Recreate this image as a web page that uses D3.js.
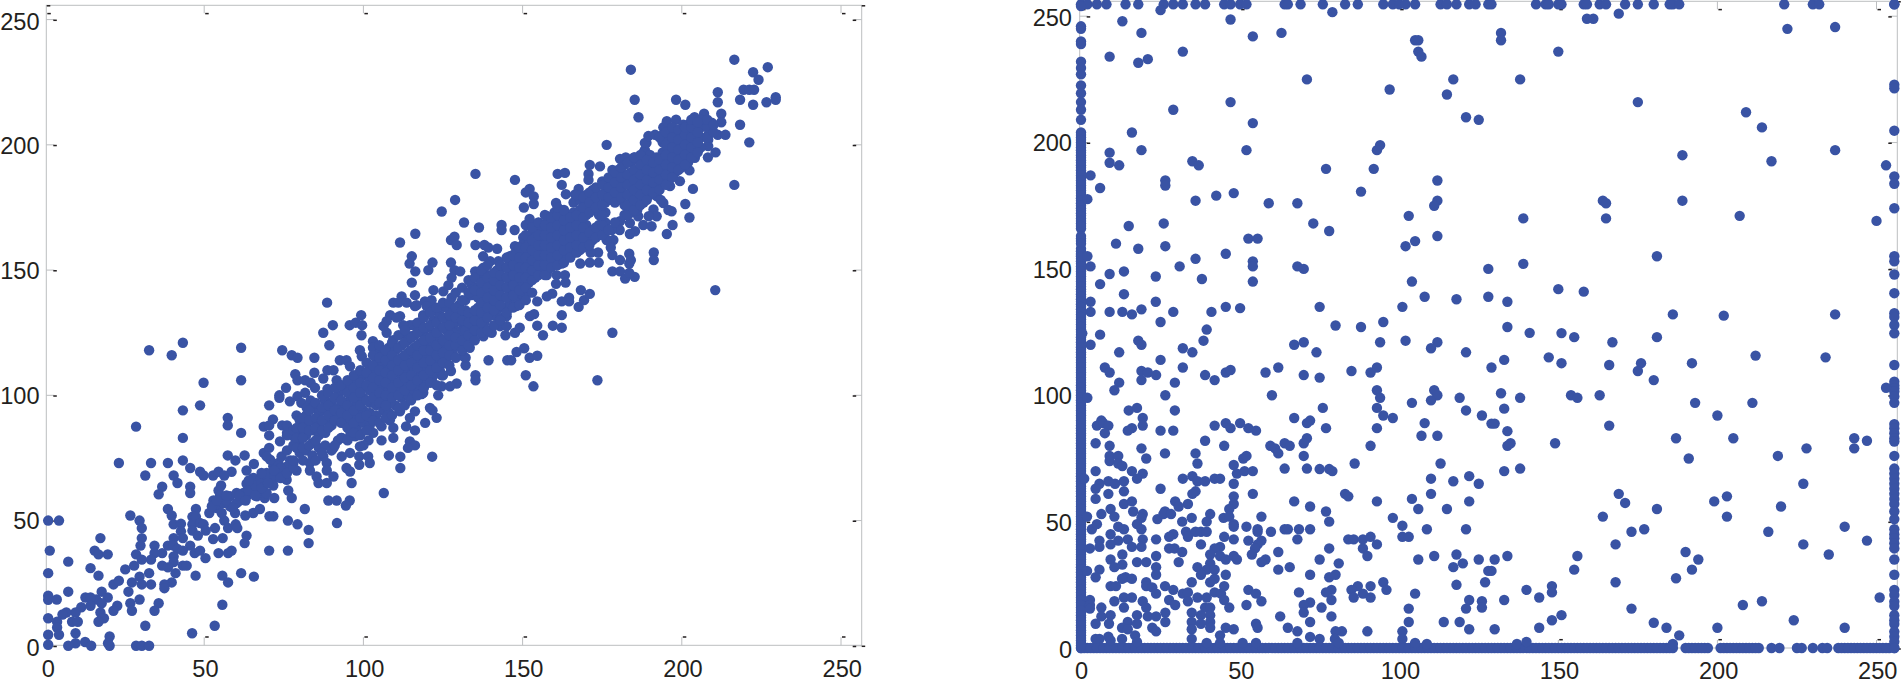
<!DOCTYPE html>
<html><head><meta charset="utf-8">
<script src="https://cdnjs.cloudflare.com/ajax/libs/d3/7.8.5/d3.min.js"></script>
<style>html,body{margin:0;padding:0;background:#fff}svg{display:block}text{font-family:"Liberation Sans",Arial,sans-serif;fill:#231f20}</style>
</head><body><svg id="c" width="1901" height="686"></svg>
<script>
const tickValues=[0,50,100,150,200,250];
const leftOuter=[[1,50],[4.4,50],[1.5,38],[1,29],[1,20],[1,18.4],[1,11],[1,4.4],[1,0.4],[3.7,18.5],[7.3,21.6],[7.3,33.6],[17.4,43],[15.6,38],[16.8,36.5],[19.7,36.5],[14.3,31],[16.8,28],[26.8,52],[29.7,50],[30.4,47],[30.4,43],[30,40],[28.6,36.5],[34.4,40],[23.2,73],[33.3,73],[38.6,73],[43.3,74],[31.5,68],[40.4,68],[41.6,65],[36.8,63.5],[35.7,60.5],[45.6,63.5],[45.6,61],[28.6,87.5],[43.3,83],[43.3,94],[48.7,96],[49.8,105],[61.6,106],[32.7,118],[39.8,116],[43.3,121],[61.6,119],[74.5,118],[77.5,116],[79.3,115],[84.6,115],[87.4,125],[90.4,128],[89.3,120],[88.6,137],[95.7,128],[97.6,129],[99.6,128],[99.3,132],[99.4,124],[57.4,91],[57.4,88],[61.6,85],[70.4,96],[70.4,84],[68.7,87.5],[71.6,90.4],[70.4,88],[74.5,88],[57.4,76],[59.8,74],[62.7,76],[65.6,72.6],[45.6,71],[48.7,69.5],[49.8,68],[52.8,68],[54.5,69.5],[58.6,69.5],[56.3,68],[63.3,70],[68.7,77],[70.4,79],[55.3,64],[54.5,62],
[38.6,54.6],[39.8,52],[40.4,48.5],[42.7,48.7],[42.7,45.7],[40.4,43],[43.3,43],[47.4,54.6],[46.3,51.5],[46.3,48.5],[47.4,51.5],[46.3,46],[48.7,49],[49.8,48.5],[51.6,53],[53.4,47],[50.5,46],[48,44],[52.8,42.6],[55.8,43],[56.3,50],[57.5,47],[59.9,48.5],[60.4,47],[63.3,44],[62.7,41],[54.5,37],[57.5,37],[58.6,38],[50.4,35],[45.6,40],[38.6,40],[40.4,40],[41.6,38.7],[43.3,38],[47,37],[48.7,38],[36.8,37],[34.4,37],[40.4,35.7],[40.4,33.4],[33.3,34.4],[30.4,34.4],[28,32],[25.2,30.5],[36.8,32],[38.6,31.3],[41,29],[43.3,32],[44.5,32],[47.3,28],[32.7,29],[29.7,27.6],[33.3,24.5],[30.4,24.5],[27.3,25.3],[26.2,21.6],[29.7,18.5],[26.8,17],[27.3,14],[21.5,24.5],[23.2,26],[39.8,25.3],[37.5,24.5],[37.5,23],[35.7,17],[34.4,14],
[17.8,21.6],[19.7,19.3],[16.1,18.5],[12.7,19.3],[14.3,19.3],[17.8,17],[14.3,16],[11.4,15.4],[9.6,13.3],[6.7,13.3],[5.5,12.5],[22.7,16],[21.5,14],[17.4,13.3],[18.5,11],[16.8,9.6],[8.5,9.6],[10.3,9.6],[3.8,9.6],[3.8,7.3],[4.4,4.4],[9.6,5],[31.5,8],[20.3,3.7],[19.8,1],[12.6,1.5],[9.6,1],[7.3,0],[14.5,0],[20.3,0],[28.6,0],[30.4,0],[32.7,0],[46.2,5],[53.3,8],[55.7,16.4],[55.7,28],[57.5,25.3],[61.6,29],[65.6,27.6],[70.4,38],[76.3,38],[82.8,41],[82.8,46.3],[79.3,48.5],[76.3,50],[91.7,49],[81.6,54.6],[106.4,61],[89,58],[91.6,58],[95.7,58],[94.5,56],[77.5,59],[72,59],[69,59],[96.3,65],[111.6,71],[121.6,75.5],[108,76],[111.6,75.5],[62.9,52],[65.4,53],[67.5,54.6],[70.5,51.7],[71.7,51.7],[59.7,53]];
const leftLower=[[52.9,58],[53.9,55],[56,57],[58.1,59.7],[60.2,61],[61.2,58],[58.1,55.7],[55.5,53],[52.4,55.7],[60.2,57],[63.3,64.7],[65.4,67],[67.5,62],[69.6,61],[65.4,61],[62.3,61],[63.3,59.7],[66.5,59.7],[69.6,69],[71.7,71.7],[73.8,69],[75.9,66.3],[71.7,66.3],[73.3,73],[77,74],[79,70],[76,71.6],[78,73],[76.4,62],[71.7,64],[67.5,66.3],[70.7,74.3],[74.3,75.6],[69.6,75.6],[83.2,73],[83.2,70],[85.3,67.6],[85.9,65],[88.5,73],[88.5,70],[90.6,67.6],[88.5,65],[94.7,71],[95.8,69.6],[93.2,75.6],[95.8,77],[98.7,75.6],[98.7,72.3],[101.5,75.6],[102,73],[87.4,75.6],[73.8,81.6],[76,85],[78,83.6],[80,85],[82,87.6],
[64,62],[66,64],[68,65],[70,67],[72,68],[74,71],[68,63],[70,65],[72,70],[74,67],[76,69],[78,71],[66,60],[64,66],[68,69],[61,60],[63,58],[55,60],[57,58],[59,55],[57,60],[54,58]];
const leftUpperWing=[[216.5,234],[184,230],[227,231],[222.4,229],[224.1,226],[219.4,222],[221.2,222],[222.7,222],[211.3,221],[211.3,217],[218.3,218],[222.4,216],[226.6,217],[229.5,219],[229.5,218],[185.2,218],[198.2,218],[201.1,216],[186.4,211],[212.4,212.4],[212.4,209],[218.3,208],[221.2,201],[211.3,204],[213.7,204],[176.4,200],[210.6,197],[208.2,195],[216.5,184],[203.5,182.4],[201.1,176.4],[202.4,171],[197.1,168],[195.3,164.4],[199.4,185.5],[135.2,188.4],[147.6,186],[128.8,178],[124.6,173.4],[131.6,169],[136.3,167],[143.4,168],[143.4,166],[147.5,166],[116.3,164.5],[111.5,161],[127.5,162],[128.6,163.3],[129.3,160],[135.2,160],[138,160],[139.2,159],[142,158.5],[115.2,155.5],[114.5,152.6],[116.3,149.5],[120.4,150],[121.7,153],[127.5,153],[137.6,155.5],[115.2,145],[128.6,150],[130.4,149.5],[161,188.4],[163.3,188.8],[162.3,184],[152.2,182.4],[151,181],[153.5,179.4],[153.5,176.4],[150.4,175],[171.1,192],[174.3,191.4],[170.7,188.4],[170.7,186],[175,185.4],[177,185.4],[178.2,190],[180.6,194.4],[182.4,195],[185.2,195],[188.9,200.8],[194.2,207],[195.3,209.4],[198.2,210],[207,212.4],[151,168],[152.2,170.4],[154.6,168],[160.5,176.8],[163.6,180.3],[167.6,182.4],[166.5,180.2],
[112,139.5],[116.2,140],[116.2,135.6],[119.3,137.5],[122,142],[121.4,138],[125.1,141.5],[126.7,144],[127.7,147],[127.7,139],[125.1,135.6],[121.4,134],[118.8,132],[117.8,129],[114.6,128],[111.5,131.6],[113.6,123.6],[135.1,149.5],[137.7,151],[139.8,153.5],[142.4,153.5],[146,155.5],[147.6,159.5],[150.2,163],[153.3,165.5],[154.9,168.8],[157.6,171.5],[160.2,172.8],[162.8,173.5],[156.5,163.5],[161.7,170],[168.6,179.5],[172.2,180.8],[176.4,179.5],[178.5,182],[181.6,184.8],[183.7,188],[186.9,189.5],[188.4,198],[188.4,200.8],[189.5,203.5],[191.6,204],[194.2,202],[196.3,203.5],[198.4,204.8],[200.5,208],[202.6,206.8],[204.1,210],[206.8,208.8],[209.4,208.8],[208.3,204],[208.3,199.5],[208.3,202],[204.1,202],[204.1,198],[202.6,196],[204.1,194.8],[200.5,192],[202.4,189.8],[196.3,183.5],[194.2,176.8],[192.1,179.5],[191.1,174.2],[192.1,171.5],[189.6,171.5],[184.8,175.5],[186.3,171.5],[187.9,168],[190.5,167.5],[183.7,168.8],[185.3,165.5],[183.7,164.4],[180.6,169.5],[178.5,162],[176.4,162],[171.1,162],[180.5,166],[196.8,173.5],[195.8,174],[193.4,178],
[78.6,108.4],[79.3,106],[81.7,106],[84.6,109],[83.4,105],[84.8,103],[87.4,106.7],[88.7,110],[90.6,110],[92.6,114],[94.7,114],[95.8,111.6],[91.6,106],[88.7,102.5],[75.7,103],[73.6,100],[73.6,99],[76.9,97.6],[79.3,99.6],[81.7,101],[83.4,98],[80.5,97],[79,92],[82.2,95],[87.9,98],[87.9,95],[98.9,118],[99.5,115.6],[103,121.6],[103,119],[105.2,117.6],[107.3,125],[106.3,127.6],[108.4,132],[110.4,131],[107.3,129.6],[112.5,128],[115.7,128],[109.3,122],[114.6,123.6],[118.8,131.6],[119.9,135.6],[122,134],[116.7,136],[109.4,137],[111,137],[113.6,137],[123,130],[118.8,125],[110.4,119]];
const leftLowerWing=[[210.5,142],[173.5,106],[178.2,125],[153.4,103.6],[151,108],[135.2,108],[135.2,106],[127.5,109.7],[139.3,114],[145.2,114],[146.4,114],[148.1,117.3],[150.5,118.8],[152.2,115],[154.6,115.8],[132.1,112],[132.1,115],[129.3,104.7],[124.6,103.6],[156.4,124],[154.6,127.8],[159.5,127.8],[162.3,127],[162.3,132],[152.3,131.6],[153.6,132.4],[167.6,135.3],[169.3,138],[171.1,140.5],[168.3,142],[164.6,139],[164.6,137.5],[162.3,137.5],[178.2,149.5],[180.6,149.5],[182.2,146.6],[185.2,147.3],[183.5,148.9],[191.2,157],[191.2,154],[183.5,156.5],[184,154],[183.5,152.6],[180.6,154],[178.2,156],[177.7,159],[173.9,153],[171.1,153],[168.1,152.6],[173.7,157],[171.4,157],[160.7,148],[163.3,148],[157.6,148],[160.5,144.5],[163.5,145],[159.3,140.6],[157.6,139.5],[154.6,137.5],[162.3,152.6],[156.5,152],[147.6,125],[149.1,127],[142.9,127.6],[145,127.6],[144.6,124],[140.3,125],[137.7,123.6],[137.7,127.6],[134.5,125],[144.5,131.6],[141.8,131.6],[137.1,132],[132.4,131.6],[131.4,127],[132.9,121],[133.4,119],[131.4,115.6],[125.1,114.2],[127.2,103.6],
[118.3,100.5],[117.2,101],[123.5,100],[120.9,95],[121.7,94],[123,91],[116.2,93.6],[114.6,91],[113.4,87.6],[116.2,86],[119.4,89],[114.6,81.6],[116.2,80],[114,79],[111.5,93.6],[108.3,90],[109.4,87],[105.7,87.6],[109.4,83],[105.7,82],[102.6,91],[101.6,88],[103.1,85],[101.6,82],[100,80],[95.8,83.6],[93.2,83],[90.6,79],[97.4,83.6],[97.9,87.6],[98.9,79.6],[107.3,95.6],[106.3,94],[118.8,101],
[157.1,149],[148,135.6],[145,131.6],[140.8,134],[136.7,134],[134.5,131.6],[132.4,127.6],[131.4,123.6],[128.8,126],[129.8,129.6],[127.7,125],[125.1,119.6],[124,117],[122,110],[124.6,108],[118.8,106],[121.5,106],[115.7,105],[112.5,104],[114.6,109],[118.8,112]];
const leftCoreRows=[[76,[78,84,88]],[78,[74,80,86]],[80,[77,82,85,90]],[82,[78,84,88,92]],[84,[76,81,86,90,95]],[86,[79,84,88,93]],[88,[80,85,90,94,98]],[90,[78,88,92,97]],[92,[82,91,95,100]],[94,[89,93,97,102]],[96,[85,90,95,99,104]],[98,[86,92,97,101,106]],[100,[89,94,99,103,108]],[102,[88,93,97,102,106,111]],[104,[92,96,100,105,109,113]],[106,[99,103,107,112,116]],[108,[93,98,102,106,110,115,119]],[110,[96,101,105,109,113,118]],[112,[99,103,107,111,115,120]],[114,[100,105,109,113,117,122]],[116,[102,107,111,115,119,124]],[118,[104,109,113,117,121,126]],[120,[106,111,115,119,123,127]],[122,[108,113,117,121,125,130]],[124,[110,115,119,123,127,132]],[126,[113,118,122,126,130,135]],[128,[117,121,125,129,133]],[130,[120,124,132,136]],[132,[122,126,130,134,138]],[134,[124,128,132,140,144]],[136,[127,131,135,139,143,147]],[138,[129,133,137,141,145,149]],[140,[132,136,140,144,148]],[142,[134,138,142,146,150]],[144,[135,139,143,147,151]],[146,[137,141,145,149,153]],[148,[138,142,146,150,154,157]],[150,[140,144,148,152,156,160]],[152,[141,145,149,153,157,161]],[154,[147,151,155,159,163]],[156,[150,154,158,162,166]],[158,[150,154,158,162,166,170]],[160,[153,157,161,165,169,173]],[162,[154,158,162,166,170,174]],[164,[156,160,164,168,172]],[166,[157,161,165,169,173,177]],[168,[158,162,166,170,174,178]],[170,[160,164,168,172,176,180]],[172,[162,166,174,178,182]],[174,[164,168,172,176,180]],[176,[165,169,173,177,181,184]],[178,[166,178,182,186]],[180,[178,182,186,190]],[182,[172,176,180,184,188,192]],[184,[173,177,181,185,189,193]],[186,[174,178,182,186,190,194]],[188,[177,181,185,189,193,197]],[190,[180,184,188,192,196]],[192,[183,187,191,195]],[194,[185,189,193,197,201,204]],[196,[186,190,194,198,202,205]],[198,[189,193,197,201,205]],[200,[191,195,199,203,206]],[202,[193,197,201,205,208]],[204,[196,200,204,208,211]],[206,[199,203,207,210]],[208,[203,207,210]],[210,[205,208]],
[79,[79,83,87]],[81,[74,79,83,87,91]],[83,[80,86,90,94]],[85,[74,82,87,91,97]],[87,[77,86,90,95,100]],[89,[87,92,96,101]],[91,[80,90,94,99,103]],[93,[83,89,93,98,104]],[95,[82,87,92,96,101,106]],[97,[85,89,94,99,103,108]],[99,[84,91,96,101,105,110]],[101,[86,92,98,104,109,113]],[103,[90,99,103,107,112,116]],[105,[89,97,101,106,110,115,120]],[107,[91,96,100,105,109,114,118]],[109,[92,99,103,108,112,116,121]],[111,[95,100,105,110,114,119,124]],[113,[96,102,107,112,116,121,126]],[115,[98,104,108,113,118,123]],[117,[100,106,111,116,120,125,129]],[119,[103,108,113,118,122,127,131]],[121,[105,110,114,118,123,128,133]],[123,[104,111,116,120,125,129,135]],[125,[108,113,117,122,127,131,137]],[127,[112,116,120,124,128,132,137]],[129,[115,120,123,131,135,141]],[131,[118,122,130,134,138,143]],[133,[120,124,129,133,141,146]],[135,[122,126,130,134,142,147]],[137,[125,129,133,137,141,145,150]],[139,[126,131,135,139,143,147,152]],[141,[128,134,138,142,146,149]],[143,[130,136,140,144,148,152]],[145,[133,139,143,147,151,155]],[147,[135,140,144,148,152,156]],[149,[136,142,147,151,155,159]],[151,[138,143,147,151,155,159,164]],[153,[141,146,150,154,158,162,167]],[155,[148,152,156,160,164,169]],[157,[148,152,156,160,164,168,172]],[159,[151,155,159,163,167,171]],[161,[152,156,160,164,168,172,175]],[163,[153,158,162,166,170,174]],[165,[155,159,163,167,171]],[167,[157,160,164,168,172,180]],[169,[159,163,167,171,175,179]],[171,[160,165,173,177,181]],[173,[163,167,175,179,183]],[175,[164,168,172,176,180,184]],[177,[166,179,183,187]],[179,[169,177,181,185,189]],[181,[179,183,187,191]],[183,[172,176,180,184,188,193]],[185,[174,178,182,186,190,195]],[187,[176,180,184,188,192,196]],[189,[178,182,186,190,194]],[191,[181,185,189,193]],[193,[182,186,190,194,203]],[195,[184,188,192,196,200,205]],[197,[187,191,195,199,203,207]],[199,[190,194,198,202,206]],[201,[192,196,200,204,207]],[203,[195,199,203,207,210]],[205,[197,201,205,209]]];

const rightTopX=[0,2,5,8,14,18,26,29,32,36,39,45,47,50,52,64,65,69,76,83,87,95,98,100,102,105,113,115,118,122,124,128,129,143,146,147,150,151,158,159,163,165,171,175,180,185,186,188,221,230,232,255.6];
const rightBottomX=[0,2,4,6,8,10,12,14,16,18,20,22,24,26,28,30,32,34,36,38,40,42,44,46,48,50,52,54,56,58,60,62,64,66,68,70,72,74,76,78,80,82,84,86,88,90,92,94,96,98,100,102,104,106,108,110,112,114,116,118,120,122,124,126,128,130,132,134,136,138,140,142,144,146,148,150,152,154,156,158,160,162,164,166,168,170,172,174,176,178,180,182,184,186,190,192,194,196,197,201,203,205,207,209,211,213,217,219.5,225,226.5,230,233,234.5,238,240,242,244,246,248,250,252,254,255.6];
const rightBottomFill=[1,3,5,7,9,11,13,15,17,19,21,23,25,27,29,31,33,35,37,39,41,43,45,47,49,51,53,55,57,59,61,63,65,67,69,71,73,75,77,79,81,83,85,87,89,91,93,95,97,99,101,103,105,107,109,111,113,115,117,119,121,123,125,127,129,131,133,135,137,139,141,143,145,147,149,151,153,155,157,159,161,163,165,167,169,171,173,175,177,179,181,183,185,191,193,195,202,204,206,208,210,212,239,241,243,245,247,249,251,253];
const rightLeftY=[254,246,245,240,239,232,229.5,227,222.6,219.5,216,213,209,204,202,200,198,196,194,192,190,188,186,184,182,180,178,176,174,172,170,168,166,163,161,158,156,154,152,150,148,146,144,142,140,138,136,134,132,130,128,126,124,122,120,118,116,114,112,110,108,106,104,102,100,98,96,94,92,90,88,86,84,82,80,78,76,74,72,70,68,66,64,62,60,58,56,54,52,50,48,46,44,42,40,38,36,34,32,30,28,26,24,22,20,18,16,14,12,10,8,6,4,2,0];
const rightLeftFill=[203,201,199,197,195,193,191,189,187,185,183,181,179,177,175,173,171,169,167,162,160,157,155,153,151,149,147,145,143,141,139,137,135,133,131,129,127,125,123,121,119,117,115,113,111,109,107,105,103,101,99,97,95,93,91,89,87,85,83,81,79,77,75,73,71,69,67,65,63,61,59,57,55,53,51,49,47,45,43,41,39,37,35,33,31,29,27,25,23,21,19,17,15,13,11,9,7,5,3,1];
const rightRightY=[254.7,222.9,221.5,204.7,186.6,183.7,174,155,153,147.8,140.4,132.5,131,127.8,124.5,112,105.4,104,102.8,101.5,99.5,97,88.6,87,85,83,81.7,76,71,69,67,65,63,61,59,57,54,51,47,45,43.4,41.4,39.4,35,29,23,21,18.3,16.6,13,11,9.5,6.5,4.5,2.5,0];
const rightUpper=[[25,252.4],[79,251.6],[47,248.7],[13,248],[19,243.4],[54,242],[63,243.4],[32,236],[105,240.5],[106,240.5],[106,236],[107,234],[9,234],[18,231.6],[21,233],[71,225],[97,221],[117,225],[115,219],[47,216],[29,213],[54,207.7],[121,210],[125,209],[16,204],[19,197],[52,197],[94,199],[93,197],[9,196],[9,192],[12,191],[35,192.6],[37,191],[77,189.6],[92,189.6],[3,187],[26.5,185],[26.5,183],[6,182],[112,185],[88,180.6],[2,177.6],[36,177],[42.5,179],[48,180],[59,176],[68,176],[112,177],[111,175],[103,171],[15,167],[26,168],[73,168],[78,165],[11,160],[18,158],[26.5,159],[52.6,162],[55.5,162],[102,159],[105,161],[112,163],[2,155],[3,151],[36,154],[45.5,156],[54,153],[54,151],[31,151],[68,151],[70,150],[128,150],[9,148],[13.5,149],[23.5,147],[38,146],[6,144],[54,145],[104,145],[13.5,140],[3,137],[23.5,137],[108,139],[118,138],[128,139],[3,133],[9,133],[13,133],[16,132],[19,134],[29,133],[41,133],[45.5,135],[50,134.5],[75,135],[101,135],[25,129],[39.5,126],[80,127.6],[88,127],[95,129]];
const rightFarRight=[[169,251],[159,249],[161,249],[132,243.4],[132,240.5],[150,236],[222,245],[237,245.7],[138,225],[175,216],[209,212],[214,206],[237,197],[189,195],[217,192.6],[253,191],[164,177],[165,176],[189,177],[139,170],[165,170],[207,171],[250,169],[181,155],[139,152],[150,142],[158,141],[134,137],[186,132],[202,131.5],[237,132],[134,127],[141,124.7],[151,124.6],[155,123],[167,121],[181,123],[129,111],[133,114],[147,115],[151,112.7],[166,112],[176,112.7],[175,109.6],[180,106],[192,112.7],[212,115.7],[234,115],[132,100.8],[138,99],[154,100],[156,99],[163,100],[133,94.7],[193,97],[211,97],[200,92],[129,88.8],[130,88.8],[134,85.8],[166,88],[187,83],[205,83],[243,83],[247,82],[134,80],[135,81],[149,81],[228,79],[243,79],[219,76],[191,75],[133,70],[138,71],[227,65],[169,61],[171,57.4],[203,60],[199,58],[181,55],[220,56],[164,52],[203,52],[240,48],[216,46],[173,46],[177,47],[247,42.5],[168,41],[227,41],[235,37],[130,35],[134,36.4],[156,36.4],[155,31],[129,30.5],[190,38],[194,35],[192,31],[187,27.6],[168,26],[140,23],[144,20],[148,24.5],[148,22],[133,19],[208,17],[214,18.5],[251,20],[173,15.6],[151,13],[148,11],[144,8],[130,7.4],[180,10],[184,8],[188,5],[200,8],[224,11],[240,8],[137,1.6],[140,2.4],[186,1.6],[253,103]];
const rightLower=[[0.4,124.5],[6,124],[3,120],[18,121.6],[19,120],[12,117],[32,118.6],[35,117],[38.5,121.6],[25,114],[67,120],[70,121],[74,117],[94,121],[102,121.6],[112,121],[110,118.6],[121,117],[7.5,111],[9,109],[32,111],[19,109.6],[21,109],[23.6,108],[19,106],[12,105],[10.5,102],[29.5,105],[39,108],[42,106],[45.5,109],[47,110],[58,109],[62,111],[70,108],[75,107],[85,109.6],[91,109],[93,111],[26.5,100],[60,100],[2,99],[93,102],[94,99],[111,102],[112,100],[110,98],[104,97],[119,99],[15,94],[17.6,95],[29.5,94],[76,95],[93,95],[121,94],[95,92],[98,91],[126,92],[6.4,90],[19.4,91],[67,91],[72,90],[71,89],[108,89],[5,88],[7,89],[8.6,88],[7.5,85],[19.4,88],[16,87],[14.7,86],[25,86],[29,86],[42,88],[45.5,89],[47,87],[50,89],[52.6,87],[55,86],[77,87],[93,87],[107,84],[112,84],[71,83],[70,81],[4.6,81],[9,80],[19,79],[39,82],[45,80],[59.5,80],[61,79],[62,77],[64,81],[65.6,80],[91,80],[9,76],[11.7,76],[9,74],[11.7,73],[13,72],[20.5,75],[26.4,77],[36,77],[36.6,73],[70,76],[51,75],[52,76],[48,72.4],[86,73],[113,73],[4.6,70],[16,70],[19.4,69],[17.6,67],[49,69],[51.4,70],[54,70],[64,71],[71,71],[75,70.8],[78,70.8],[79,70],[32,67],[35,68],[36.6,66],[39,66],[42,67],[43.7,67],[48,65],[110,67],[117,66],[122,68],[125,65],[1,67],[8.6,66],[10.7,65],[13.5,66],[5.8,65],[4.6,63],[8.6,61],[13.5,62],[25,63],[36,62],[35,61],[48,60],[54,61],[83,61],[84,60],[110,61],[4.6,59],[13.5,57],[16,58],[29.6,58],[33.6,57],[48,57],[67,58],[93,58],[104,59],[122,58],[9.3,55],[16.4,54],[26.4,54],[30.7,56],[46.6,55],[72,56],[77,54],[106,55],[115,55],[6.4,53],[10.5,52],[19.4,53],[24,51],[25.9,53],[28.3,53],[40.6,53],[34.8,51.5],[44.8,51.5],[46.6,52],[56.7,52],[98,51.5],[19,51.5],[1.9,52],
[17.6,49],[3.4,47],[5,49],[11.7,48],[13.5,47],[9.3,45],[19,47],[31.8,50],[39.5,50],[48,49],[48,48],[52,48],[55.5,47],[59.7,46],[64,47],[65,47],[68.5,47],[72,47],[78,50],[101,48.4],[108.7,47],[121,47],[33,46],[36,46],[37.7,46],[39.5,46],[33.6,44],[29,45],[27.7,44],[23.6,43],[19.4,43],[14.7,43],[11.7,42.5],[9.3,41],[5.8,42.5],[5.8,40],[2.8,39.4],[16,40],[19,40],[45,44],[48,43],[52.6,42.5],[55.5,46],[56.7,42.5],[55.5,41],[68,43],[37.7,41],[84,43],[85.7,43],[88.6,43],[91,44],[93,41],[88.6,39.4],[101,44],[103,44],[43.7,40],[42,39.4],[27.7,39.4],[29.4,39.4],[31.8,38],[40.6,37],[54.7,39.4],[53.7,37],[62,38],[78,39.4],[90,36.4],[118,37],[23.6,36.4],[13,37],[9.3,35],[17.6,34],[20.5,34],[13,33],[10.5,32],[30.7,34],[43.7,36.4],[45.5,35],[48,36.4],[49,35],[40.6,33.5],[58,35],[56.7,34],[75,35],[81,33.5],[106,35],[111,36.4],[125,35],[120,33.5],[117,32],[128,30.5],[23.6,32],[36.6,32],[39.5,31],[42,31],[5.8,31],[1.9,30.5],[4.6,28],[62,31],[65.6,32],[23.6,29],[14,28],[16,27.4],[12.9,27.4],[37.7,29],[42,27.4],[45.5,29],[72,29],[78,28],[80,29],[9.3,24.5],[11,24.5],[20.5,26],[20.5,24.5],[22.4,24],[26.4,24.5],[29,23],[34.8,26],[40.6,26],[45,24.5],[52.6,23],[55,21.5],[87,24.5],[91,24.5],[95,26],[127,26],[118,25],[96,23],[78.7,23],[77,22],[23.6,21.5],[32,21.5],[33.6,22],[42,22],[44,21.5],[68.5,22],[85,23],[88.6,21.5],[105,21.5],[13.5,20],[16,20],[10.5,18.5],[19.4,18.5],[2.8,19],[2.8,17],[2.8,15.6],[27.7,19],[33.6,18.5],[36.6,20],[39.5,20],[45,19],[56.7,18.5],[78.7,19],[72,18],[85.7,20],[91,20],[122,19],[126,18.5],[29.6,17],[13.5,16],[6.4,16],[20.5,16],[39,16],[40.6,16],[46.6,16],[52,17],[70,17],[75.6,16],[103,15.6],[121,15.6],[126,16],[70,14],[6.4,12.5],[9.3,13],[17.6,13],[21,12.5],[23.6,12.5],[26.5,14],[34.8,14],[37.7,13],[40.6,13],[62.6,12.5],[78.7,12.5],[4.6,9.6],[8.8,9.6],[26.5,10.3],[14.7,10.3],[17.6,9.6],[34.8,10.3],[37.7,9.6],[40.6,10.3],[55,9.6],[72,10.3],[103,10.3],[114,10.3],[119,10.3],[12.9,8],[14.7,7.4],[22.4,8],[23.6,6.6],[34.8,7.4],[40.6,8],[45.5,8],[48,7.4],[43.7,5],[55.5,8],[65,8],[68,6.6],[82,6.6],[80,6.6],[90,6.6],[101,6.6],[122,7.4],[5.8,3.6],[8.6,4.5],[4.6,3.6],[9.3,3],[12.9,3.6],[17,5],[17.6,2.4],[34.8,3.6],[39.5,2],[43.7,2],[50.8,2],[55,2],[68,2],[72,4.4],[75,3.6],[79.8,3.6],[81,2],[101,3.6],[105,2],[108.7,1.6]];

const leftData=[...leftOuter,...leftLower,...leftUpperWing,...leftLowerWing,...leftCoreRows.flatMap(([x,ys])=>ys.map(y=>[x,y]))];
const rightData=[...rightTopX.map(x=>[x,254.7]),...rightBottomX.map(x=>[x,0]),...rightBottomFill.map(x=>[x,0]),...rightLeftY.map(y=>[0,y]),...rightLeftFill.map(y=>[0,y]),...rightRightY.map(y=>[255.6,y]),...rightUpper,...rightFarRight,...rightLower];

const svg=d3.select('#c');
const GRAY='#bcbec0',BLUE='#3953a4',INK='#231f20';
function panel(o){
  const x=d3.scaleLinear().domain([0,250]).range([o.x0,o.x250]);
  const y=d3.scaleLinear().domain([0,250]).range([o.y0,o.y250]);
  const g=svg.append('g');
  g.append('rect').attr('x',o.l).attr('y',o.t).attr('width',o.r-o.l).attr('height',o.b-o.t)
    .attr('fill','none').attr('stroke',GRAY).attr('stroke-width',1);
  const dash=(px,py)=>g.append('rect').attr('x',px).attr('y',py-0.75).attr('width',3.5).attr('height',1.5).attr('fill',INK);
  const line=(a,b,c,d)=>g.append('line').attr('x1',a).attr('y1',b).attr('x2',c).attr('y2',d).attr('stroke',GRAY).attr('stroke-width',1);
  tickValues.forEach(v=>{
    const px=x(v),py=y(v);
    if(v>0){line(px,o.t,px,o.t+o.tick);line(px,o.b,px,o.b-o.tick);}
    line(o.l,py,o.l+o.tick,py);line(o.r,py,o.r-o.tick,py);
    dash(Math.max(px,o.l)+1,o.t+o.tick+0.3);dash(Math.max(px,o.l)+1,o.b-o.tick-0.3);
    dash(o.l+o.tick-1,py+0.7);dash(o.r-o.tick-1,py+0.7);
  });
  dash(o.l+0.5,o.t+0.5);dash(o.r,o.t+0.5);dash(o.r,o.b+1);
  const xa=g.append('g').attr('transform',`translate(0,${o.labelX})`).call(d3.axisBottom(x).tickValues(tickValues).tickSize(0).tickPadding(0));
  const ya=g.append('g').attr('transform',`translate(${o.labelY},0)`).call(d3.axisLeft(y).tickValues(tickValues).tickSize(0).tickPadding(0));
  [xa,ya].forEach(a=>{a.select('.domain').remove();a.selectAll('text').attr('font-size',23.6).attr('fill',INK).style('font-family','"Liberation Sans",Arial,sans-serif');});
  xa.selectAll('text').attr('dy','0.36em').attr('y',0).attr('dx',d=>d===0?o.zeroDx:0.7);
  ya.selectAll('text').attr('dy',d=>(d===0?1.4:d===250?1:0)+8.4);
  g.append('g').selectAll('circle').data(o.data).join('circle')
    .attr('cx',d=>x(d[0])).attr('cy',d=>y(d[1])).attr('r',5.2).attr('fill',BLUE);
}
panel({x0:45,x250:841,y0:645.8,y250:19.6,l:46.3,r:861.7,t:5.3,b:645.3,tick:8,labelX:668,labelY:39.6,zeroDx:2.7,data:leftData});
panel({x0:1081,x250:1876.5,y0:648,y250:16.2,l:1079.7,r:1897.3,t:1.3,b:648,tick:8,labelX:670,labelY:1072,zeroDx:0,data:rightData});
</script></body></html>
